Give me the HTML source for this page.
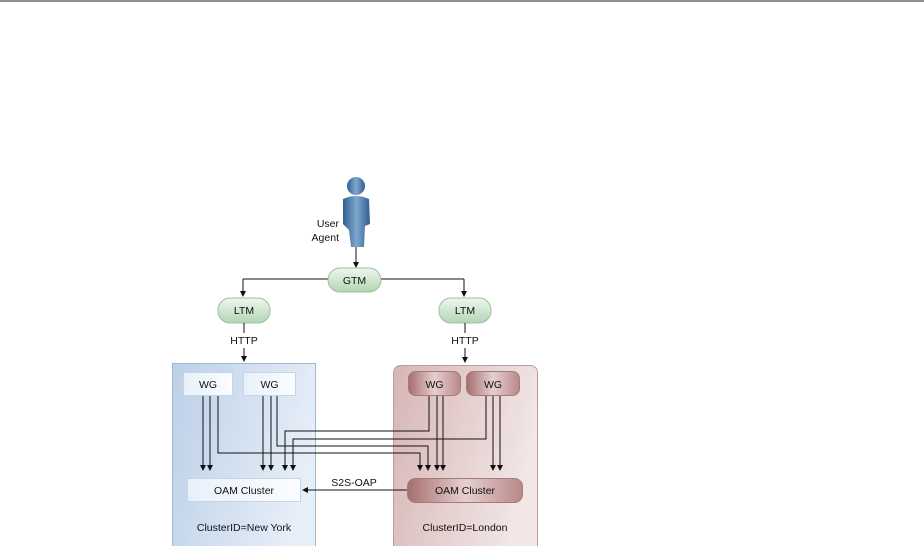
<!DOCTYPE html>
<html><head><style>
body{margin:0;background:#fff;}
svg text{font-family:"Liberation Sans",sans-serif;font-size:10.5px;fill:#111;}
</style></head><body>
<svg width="924" height="546" viewBox="0 0 924 546" xmlns="http://www.w3.org/2000/svg">
<defs>
<linearGradient id="ny" x1="0" y1="0" x2="1" y2="0.3"><stop offset="0" stop-color="#bcd0e8"/><stop offset="1" stop-color="#e6eef8"/></linearGradient>
<linearGradient id="ld" x1="0" y1="0" x2="1" y2="0.3"><stop offset="0" stop-color="#d7b5b5"/><stop offset="1" stop-color="#f2e6e6"/></linearGradient>
<linearGradient id="gr" x1="0" y1="0" x2="0" y2="1"><stop offset="0" stop-color="#eef7ee"/><stop offset="1" stop-color="#b3d5b3"/></linearGradient>
<linearGradient id="wb" x1="0" y1="0" x2="1" y2="0"><stop offset="0" stop-color="#e8f0fa"/><stop offset="1" stop-color="#fbfdff"/></linearGradient>
<linearGradient id="wr" x1="0" y1="0" x2="1" y2="0"><stop offset="0" stop-color="#a56e6e"/><stop offset="0.5" stop-color="#e6cfcf"/><stop offset="1" stop-color="#b88888"/></linearGradient>
<linearGradient id="pp" x1="0" y1="0" x2="1" y2="0"><stop offset="0" stop-color="#2f5f8f"/><stop offset="0.5" stop-color="#7fa7cf"/><stop offset="1" stop-color="#2f5f8f"/></linearGradient>
<marker id="a" markerWidth="6" markerHeight="6" refX="5" refY="3" orient="auto" markerUnits="userSpaceOnUse"><path d="M0,0 L6,3 L0,6 z" fill="#111"/></marker>
</defs>
<line x1="0" y1="1" x2="924" y2="1" stroke="#222" stroke-width="1"/>
<!-- person -->
<circle cx="356" cy="186" r="9" fill="url(#pp)"/>
<path d="M343,199 Q356,193 369,199 L370,224 L365,226 L364,247 L351,247 L349,230 L343,224 Z" fill="url(#pp)"/>
<text x="339" y="227" text-anchor="end">User</text>
<text x="339" y="241" text-anchor="end">Agent</text>
<line x1="356" y1="247" x2="356" y2="267" stroke="#111" marker-end="url(#a)"/>
<line x1="243" y1="279" x2="464" y2="279" stroke="#111"/>
<line x1="243" y1="279" x2="243" y2="296" stroke="#111" marker-end="url(#a)"/>
<line x1="464" y1="279" x2="464" y2="296" stroke="#111" marker-end="url(#a)"/>
<rect x="328" y="268" width="53" height="24" rx="12" fill="url(#gr)" stroke="#9cc09c"/>
<text x="354.5" y="284" text-anchor="middle">GTM</text>
<rect x="218" y="298" width="52" height="25" rx="12" fill="url(#gr)" stroke="#9cc09c"/>
<text x="244" y="314" text-anchor="middle">LTM</text>
<rect x="439" y="298" width="52" height="25" rx="12" fill="url(#gr)" stroke="#9cc09c"/>
<text x="465" y="314" text-anchor="middle">LTM</text>
<line x1="244" y1="323" x2="244" y2="333" stroke="#111"/>
<line x1="465" y1="323" x2="465" y2="333" stroke="#111"/>
<text x="244" y="344" text-anchor="middle">HTTP</text>
<text x="465" y="344" text-anchor="middle">HTTP</text>
<line x1="244" y1="348" x2="244" y2="361" stroke="#111" marker-end="url(#a)"/>
<line x1="465" y1="348" x2="465" y2="362" stroke="#111" marker-end="url(#a)"/>
<!-- cluster boxes -->
<rect x="172.5" y="363.5" width="143" height="190" fill="url(#ny)" stroke="#9fb8d4"/>
<rect x="393.5" y="365.5" width="144" height="190" rx="7" fill="url(#ld)" stroke="#c09a9a"/>
<rect x="183.5" y="372.5" width="49" height="23" fill="url(#wb)" stroke="#c5d5e8"/>
<text x="208" y="388" text-anchor="middle">WG</text>
<rect x="243.5" y="372.5" width="52" height="23" fill="url(#wb)" stroke="#c5d5e8"/>
<text x="269.5" y="388" text-anchor="middle">WG</text>
<rect x="408.5" y="371.5" width="52" height="24" rx="7" fill="url(#wr)" stroke="#a57a7a"/>
<text x="434.5" y="388" text-anchor="middle">WG</text>
<rect x="466.5" y="371.5" width="53" height="24" rx="7" fill="url(#wr)" stroke="#a57a7a"/>
<text x="493" y="388" text-anchor="middle">WG</text>
<!-- connectors -->
<g stroke="#111" fill="none" marker-end="url(#a)">
<path d="M203,396 V470"/><path d="M210,396 V470"/>
<path d="M218,396 V453 H420 V470"/>
<path d="M263,396 V470"/><path d="M271,396 V470"/>
<path d="M277,396 V446 H428 V470"/>
<path d="M429,396 V431 H285 V470"/>
<path d="M486,396 V439 H293 V470"/>
<path d="M437,396 V470"/><path d="M443,396 V470"/>
<path d="M493,396 V470"/><path d="M500,396 V470"/>
</g>
<rect x="187.5" y="478.5" width="113" height="23" fill="url(#wb)" stroke="#c5d5e8"/>
<text x="244" y="494" text-anchor="middle">OAM Cluster</text>
<rect x="407.5" y="478.5" width="115" height="24" rx="8" fill="url(#wr)" stroke="#a57a7a"/>
<text x="465" y="494" text-anchor="middle">OAM Cluster</text>
<line x1="407" y1="490" x2="303" y2="490" stroke="#111" marker-end="url(#a)"/>
<text x="354" y="486" text-anchor="middle">S2S-OAP</text>
<text x="244" y="531" text-anchor="middle">ClusterID=New York</text>
<text x="465" y="531" text-anchor="middle">ClusterID=London</text>
</svg>
</body></html>
